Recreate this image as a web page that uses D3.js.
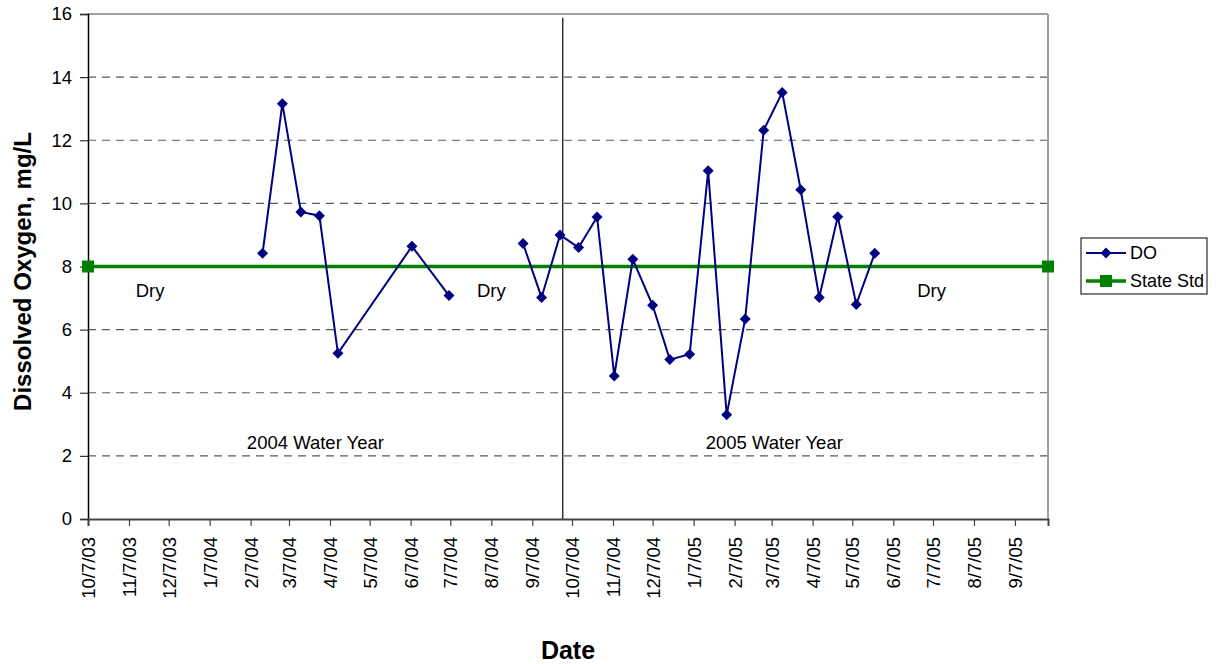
<!DOCTYPE html>
<html>
<head>
<meta charset="utf-8">
<script src="https://cdn.jsdelivr.net/npm/d3@7"></script>
<style>
  body { margin: 0; background: #fff; }
  svg text { font-family: "Liberation Sans", Arial, sans-serif; }
</style>
</head>
<body>
<svg id="chart" width="1218" height="664"></svg>
<script>
// ---- data ----
const doDates = [
  "2004-02-16","2004-03-02","2004-03-16","2004-03-30","2004-04-13","2004-06-08","2004-07-06",
  null,
  "2004-08-31","2004-09-14","2004-09-28","2004-10-12","2004-10-26","2004-11-08","2004-11-22",
  "2004-12-07","2004-12-20","2005-01-04","2005-01-18","2005-02-01","2005-02-15","2005-03-01",
  "2005-03-15","2005-03-29","2005-04-12","2005-04-26","2005-05-10","2005-05-24"
];
const doValues = [
  8.42, 13.16, 9.73, 9.61, 5.25, 8.64, 7.08,
  null,
  8.73, 7.02, 9.00, 8.60, 9.57, 4.53, 8.23,
  6.77, 5.05, 5.22, 11.03, 3.30, 6.34, 12.32,
  13.51, 10.43, 7.02, 9.58, 6.80, 8.42
];
const stdDates = ["2003-10-07", "2005-10-02"];
const stdValues = [8, 8];
const xTickLabels = ["10/7/03","11/7/03","12/7/03","1/7/04","2/7/04","3/7/04","4/7/04","5/7/04",
  "6/7/04","7/7/04","8/7/04","9/7/04","10/7/04","11/7/04","12/7/04","1/7/05","2/7/05","3/7/05",
  "4/7/05","5/7/05","6/7/05","7/7/05","8/7/05","9/7/05"];
const yTicks = [0, 2, 4, 6, 8, 10, 12, 14, 16];
const dividerDate = "2004-09-30";
const annotationLabels = ["Dry", "Dry", "Dry", "2004 Water Year", "2005 Water Year"];
const annotationDates = ["2003-11-23", "2004-08-07", "2005-07-06", "2004-03-27", "2005-03-09"];
const annotationValues = [7.23, 7.23, 7.23, 2.42, 2.42];
const seriesNames = ["DO", "State Std"];

// ---- layout ----
const parse = d3.timeParse("%Y-%m-%d");
const tickParse = d3.timeParse("%m/%d/%y");
const svg = d3.select("#chart");
const L = 88, R = 1048, T = 14, B = 519;
const FS = 18.5;

const x = d3.scaleTime().domain([parse("2003-10-07"), parse("2005-10-02")]).range([L, R]);
const y = d3.scaleLinear().domain([0, 16]).range([B, T]);

// gridlines
svg.append("g").selectAll("line")
  .data(yTicks.filter(v => v > 0 && v < 16))
  .join("line")
  .attr("x1", L).attr("x2", R)
  .attr("y1", d => y(d)).attr("y2", d => y(d))
  .attr("stroke", "#5a5a5a").attr("stroke-width", 1.2)
  .attr("stroke-dasharray", "8,6");

// frame (top and right gray)
svg.append("line").attr("x1", L).attr("x2", R).attr("y1", T).attr("y2", T)
  .attr("stroke", "#a0a0a0").attr("stroke-width", 2);
svg.append("line").attr("x1", R).attr("x2", R).attr("y1", T).attr("y2", B)
  .attr("stroke", "#a0a0a0").attr("stroke-width", 2);

// y axis
const yAxis = d3.axisLeft(y).tickValues(yTicks).tickSize(8).tickPadding(8).tickFormat(d3.format("d"));
const gy = svg.append("g").attr("transform", `translate(${L},0)`).call(yAxis);
gy.select(".domain").attr("stroke", "#000").attr("stroke-width", 1.5);
gy.selectAll(".tick line").attr("stroke", "#333").attr("stroke-width", 1.2);
gy.selectAll("text").attr("font-size", FS).attr("fill", "#000");

// x axis
const xTickDates = xTickLabels.map(s => tickParse(s));
const xAxis = d3.axisBottom(x).tickValues(xTickDates).tickSize(7).tickPadding(0)
  .tickFormat((d, i) => xTickLabels[i]);
const gx = svg.append("g").attr("transform", `translate(0,${B})`).call(xAxis);
gx.select(".domain").attr("stroke", "#444").attr("stroke-width", 2);
gx.selectAll(".tick line").attr("stroke", "#444").attr("stroke-width", 1.2);
gx.selectAll("text")
  .attr("font-size", FS).attr("fill", "#000")
  .attr("text-anchor", "end")
  .attr("transform", "rotate(-90)")
  .attr("x", -18).attr("y", 0).attr("dy", "0.35em");

// divider line
svg.append("line")
  .attr("x1", x(parse(dividerDate))).attr("x2", x(parse(dividerDate)))
  .attr("y1", y(15.88)).attr("y2", B)
  .attr("stroke", "#333").attr("stroke-width", 1.5);

// annotations
const annotations = annotationLabels.map((l, i) => ({ label: l, date: parse(annotationDates[i]), value: annotationValues[i] }));
svg.append("g").selectAll("text").data(annotations).join("text")
  .attr("x", d => x(d.date)).attr("y", d => y(d.value))
  .attr("text-anchor", "middle").attr("dy", "0.35em")
  .attr("font-size", FS).attr("fill", "#000")
  .text(d => d.label);

// state std line
const stdPts = stdDates.map((d, i) => ({ date: parse(d), v: stdValues[i] }));
svg.append("path").datum(stdPts)
  .attr("d", d3.line().x(d => x(d.date)).y(d => y(d.v)))
  .attr("fill", "none").attr("stroke", "#008000").attr("stroke-width", 3.5);
svg.append("g").selectAll("rect").data(stdPts).join("rect")
  .attr("x", d => x(d.date) - 6).attr("y", d => y(d.v) - 6)
  .attr("width", 12).attr("height", 12).attr("fill", "#008000");

// DO line
const doPts = doDates.map((d, i) => ({ date: d ? parse(d) : null, v: doValues[i] }));
svg.append("path").datum(doPts)
  .attr("d", d3.line().defined(d => d.date !== null && d.v !== null).x(d => x(d.date)).y(d => y(d.v)))
  .attr("fill", "none").attr("stroke", "#000080").attr("stroke-width", 2);
const diamond = "M0,-5.5L5.5,0L0,5.5L-5.5,0Z";
svg.append("g").selectAll("path").data(doPts.filter(d => d.date !== null))
  .join("path")
  .attr("transform", d => `translate(${x(d.date)},${y(d.v)})`)
  .attr("d", diamond).attr("fill", "#000080");

// axis titles
svg.append("text").attr("x", 568).attr("y", 659).attr("text-anchor", "middle")
  .attr("font-size", 25).attr("font-weight", "bold").text("Date");
svg.append("text").attr("transform", `translate(31,${(T + B) / 2 + 5}) rotate(-90)`)
  .attr("text-anchor", "middle").attr("font-size", 24).attr("font-weight", "bold")
  .text("Dissolved Oxygen, mg/L");

// legend
const lg = svg.append("g").attr("transform", "translate(1081,238)");
lg.append("rect").attr("width", 126).attr("height", 56)
  .attr("fill", "#fff").attr("stroke", "#000").attr("stroke-width", 1);
const rows = [
  { name: seriesNames[0], color: "#000080", w: 2, marker: "diamond", yy: 15 },
  { name: seriesNames[1], color: "#008000", w: 3.5, marker: "square", yy: 43 }
];
rows.forEach(r => {
  lg.append("line").attr("x1", 5).attr("x2", 45).attr("y1", r.yy).attr("y2", r.yy)
    .attr("stroke", r.color).attr("stroke-width", r.w);
  if (r.marker === "diamond") {
    lg.append("path").attr("transform", `translate(25,${r.yy})`).attr("d", diamond).attr("fill", r.color);
  } else {
    lg.append("rect").attr("x", 19).attr("y", r.yy - 6).attr("width", 12).attr("height", 12).attr("fill", r.color);
  }
  lg.append("text").attr("x", 49).attr("y", r.yy).attr("dy", "0.35em")
    .attr("font-size", 18).attr("fill", "#000").text(r.name);
});
</script>
</body>
</html>
